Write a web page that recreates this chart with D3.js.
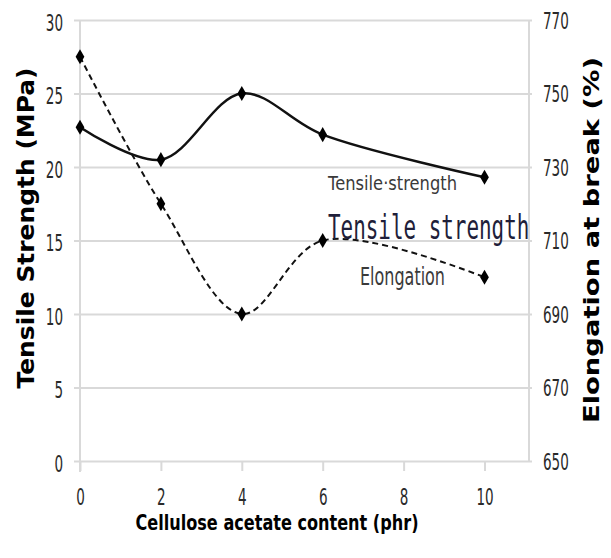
<!DOCTYPE html>
<html>
<head>
<meta charset="utf-8">
<script src="https://cdn.jsdelivr.net/npm/d3@7"></script>
<style>
	body { margin: 0; background: #fff; }
	svg { display: block; }
</style>
</head>
<body>
<svg width="611" height="558"></svg>
<script>
	// data
	var content = [0, 2, 4, 6, 10];
	var tensile = [22.7, 20.5, 25.0, 22.2, 19.3];
	var elongation = [760, 720, 690, 710, 700];

	var xTicks = [0, 2, 4, 6, 8, 10];
	var leftTicks = [0, 5, 10, 15, 20, 25, 30];
	var rightTicks = [650, 670, 690, 710, 730, 750, 770];

	var svg = d3.select("svg");
	var font = "'DejaVu Sans', 'Liberation Sans', sans-serif";

	var x = d3.scaleLinear().domain([0, 11.1]).range([80, 529]);
	var yL = d3.scaleLinear().domain([0, 30]).range([461, 20]);
	var yR = d3.scaleLinear().domain([650, 770]).range([461, 20]);

	// squeeze the digits so they look like the narrow original font
	function narrowDigits(sel) {
		sel.attr("font-family", font)
			.attr("font-size", 23)
			.attr("fill", "#2a2a2a")
			.attr("textLength", function(d) { return String(d).length * 8.6; })
			.attr("lengthAdjust", "spacingAndGlyphs");
	}

	// gridlines
	svg.append("g")
		.attr("transform", "translate(74,0)")
		.call(d3.axisLeft(yL).tickValues(leftTicks).tickSize(-458).tickFormat(""))
		.call(function(g) { g.select(".domain").remove(); })
		.selectAll("line")
		.attr("stroke", "#d9d9d9")
		.attr("stroke-width", 2);

	// left axis line
	svg.append("line")
		.attr("x1", x(0)).attr("x2", x(0))
		.attr("y1", yL(30)).attr("y2", 472)
		.attr("stroke", "#d9d9d9").attr("stroke-width", 2);

	// right axis line
	svg.append("line")
		.attr("x1", x(11.1)).attr("x2", x(11.1))
		.attr("y1", yR(770)).attr("y2", yR(650))
		.attr("stroke", "#d9d9d9").attr("stroke-width", 2);

	// x axis ticks + labels
	var xAxis = svg.append("g")
		.attr("transform", "translate(0,461)")
		.call(d3.axisBottom(x).tickValues(xTicks).tickSize(10));
	xAxis.select(".domain").remove();
	xAxis.selectAll("line").attr("stroke", "#d9d9d9").attr("stroke-width", 2);
	xAxis.selectAll("text")
		.attr("y", 44).attr("dy", null)
		.call(narrowDigits);

	// left tick labels
	var lAxis = svg.append("g")
		.attr("transform", "translate(63,0)")
		.call(d3.axisLeft(yL).tickValues(leftTicks).tickSize(0).tickPadding(0));
	lAxis.select(".domain").remove();
	lAxis.selectAll("text")
		.attr("dy", 10)
		.call(narrowDigits);

	// right tick labels
	var rAxis = svg.append("g")
		.attr("transform", "translate(543,0)")
		.call(d3.axisRight(yR).tickValues(rightTicks).tickSize(0).tickPadding(0));
	rAxis.select(".domain").remove();
	rAxis.selectAll("text")
		.attr("dy", 8)
		.call(narrowDigits);

	// axis titles
	svg.append("text")
		.attr("transform", "translate(34,228) rotate(-90)")
		.attr("text-anchor", "middle")
		.attr("font-family", font)
		.attr("font-weight", "bold")
		.attr("font-size", 23)
		.attr("textLength", 321)
		.attr("lengthAdjust", "spacingAndGlyphs")
		.text("Tensile Strength (MPa)");

	svg.append("text")
		.attr("transform", "translate(599,240) rotate(-90)")
		.attr("text-anchor", "middle")
		.attr("font-family", font)
		.attr("font-weight", "bold")
		.attr("font-size", 22)
		.attr("textLength", 366)
		.attr("lengthAdjust", "spacingAndGlyphs")
		.text("Elongation at break (%)");

	svg.append("text")
		.attr("x", 277).attr("y", 530)
		.attr("text-anchor", "middle")
		.attr("font-family", font)
		.attr("font-weight", "bold")
		.attr("font-size", 21)
		.attr("textLength", 283)
		.attr("lengthAdjust", "spacingAndGlyphs")
		.text("Cellulose acetate content (phr)");

	// series
	var pts = content.map(function(c, i) { return { c: c, t: tensile[i], e: elongation[i] }; });

	var lineT = d3.line()
		.x(function(d) { return x(d.c); })
		.y(function(d) { return yL(d.t); })
		.curve(d3.curveCatmullRom.alpha(0.5));
	var lineE = d3.line()
		.x(function(d) { return x(d.c); })
		.y(function(d) { return yR(d.e); })
		.curve(d3.curveCatmullRom.alpha(0.5));

	svg.append("path")
		.datum(pts)
		.attr("d", lineE)
		.attr("fill", "none")
		.attr("stroke", "#111")
		.attr("stroke-width", 2)
		.attr("stroke-dasharray", "6,4");

	svg.append("path")
		.datum(pts)
		.attr("d", lineT)
		.attr("fill", "none")
		.attr("stroke", "#111")
		.attr("stroke-width", 2.5);

	var diamond = d3.symbol().type(d3.symbolDiamond).size(66);

	svg.append("g").selectAll("path")
		.data(pts).enter()
		.append("path")
		.attr("d", diamond)
		.attr("transform", function(d) { return "translate(" + x(d.c) + "," + yL(d.t) + ")"; })
		.attr("fill", "#000");

	svg.append("g").selectAll("path")
		.data(pts).enter()
		.append("path")
		.attr("d", diamond)
		.attr("transform", function(d) { return "translate(" + x(d.c) + "," + yR(d.e) + ")"; })
		.attr("fill", "#000");

	// annotations
	svg.append("text")
		.attr("x", 328).attr("y", 190)
		.attr("font-family", font)
		.attr("font-size", 20)
		.attr("fill", "#3a3a3a")
		.attr("textLength", 129)
		.attr("lengthAdjust", "spacingAndGlyphs")
		.text("Tensile\u00b7strength");

	// the big one is squeezed with a transform (mono 34px is ~327px wide)
	svg.append("text")
		.attr("transform", "translate(328,239) scale(0.615,1)")
		.attr("font-family", "'DejaVu Sans Mono', monospace")
		.attr("font-size", 34)
		.attr("fill", "#1f1f3a")
		.text("Tensile strength");

	svg.append("text")
		.attr("x", 360).attr("y", 285)
		.attr("font-family", font)
		.attr("font-size", 24)
		.attr("fill", "#3a3a3a")
		.attr("textLength", 85)
		.attr("lengthAdjust", "spacingAndGlyphs")
		.text("Elongation");
</script>
</body>
</html>
